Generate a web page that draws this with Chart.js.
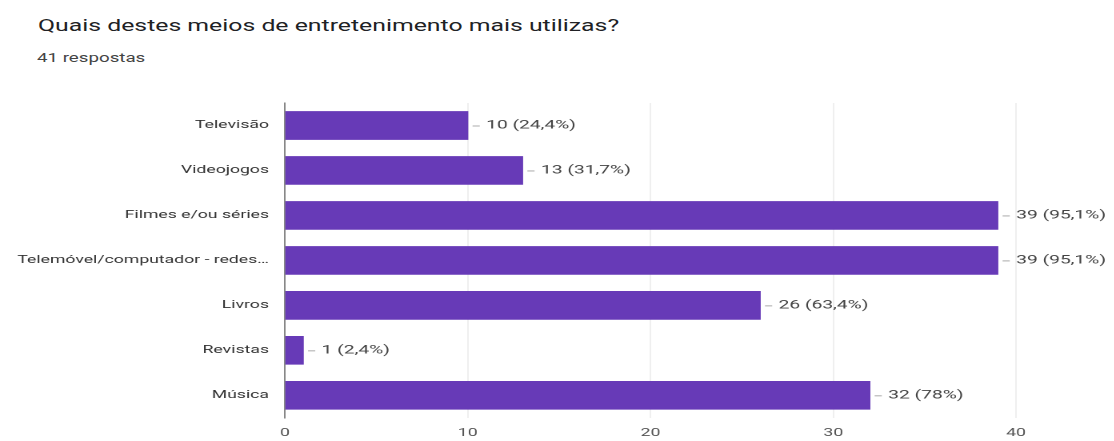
<!DOCTYPE html>
<html>
<head>
<meta charset="utf-8">
<script src="https://cdn.jsdelivr.net/npm/chart.js@4"></script>
<style>
  body { margin: 0; background: #fff; font-family: Roboto, Arial, sans-serif; overflow: hidden; }
  #title { position: absolute; left: 38px; top: 16px; font-size: 16px; color: #202124;
           white-space: nowrap; transform: scaleX(1.55); transform-origin: 0 0; }
  #sub { position: absolute; left: 37px; top: 51px; font-size: 12px; color: #444;
         white-space: nowrap; transform: scaleX(1.56); transform-origin: 0 0; }
  /* o original está esticado na horizontal */
  #wrap { position: absolute; left: 0; top: 75px; width: 696.25px; height: 375px;
          transform: scaleX(1.6); transform-origin: 0 0; }
</style>
</head>
<body>
<div id="title">Quais destes meios de entretenimento mais utilizas?</div>
<div id="sub">41 respostas</div>
<div id="wrap"><canvas id="myChart"></canvas></div>
<script>
const labels = [
  'Televisão',
  'Videojogos',
  'Filmes e/ou séries',
  'Telemóvel/computador - redes…',
  'Livros',
  'Revistas',
  'Música',
];
const counts = [10, 13, 39, 39, 26, 1, 32];
const percents = ['24,4%', '31,7%', '95,1%', '95,1%', '63,4%', '2,4%', '78%'];
const xTicks = [0, 10, 20, 30, 40];

const S = 1.6;

// etiquetas "– 10 (24,4%)" à direita das barras
const valueLabels = {
  id: 'valueLabels',
  afterDatasetsDraw(chart) {
    const c = chart.ctx;
    const meta = chart.getDatasetMeta(0);
    c.save();
    c.font = '12px Roboto, Arial, sans-serif';
    c.fillStyle = '#444';
    c.strokeStyle = '#aaa';
    c.lineWidth = 1;
    c.textBaseline = 'middle';
    meta.data.forEach((bar, i) => {
      c.beginPath();
      c.moveTo(bar.x + 3, bar.y + 0.5);
      c.lineTo(bar.x + 7.5, bar.y + 0.5);
      c.stroke();
      c.fillText(counts[i] + ' (' + percents[i] + ')', bar.x + 11.5, bar.y);
    });
    c.restore();
  }
};

new Chart(document.getElementById('myChart'), {
  type: 'bar',
  data: {
    labels,
    datasets: [{
      data: counts,
      backgroundColor: '#673ab7',
      barThickness: 28,
    }]
  },
  options: {
    indexAxis: 'y',
    responsive: true,
    maintainAspectRatio: false,
    animation: false,
    devicePixelRatio: 2,
    layout: { padding: { top: 28, right: 98 / S, left: 0, bottom: 1 } },
    plugins: {
      legend: { display: false },
      tooltip: { enabled: false },
    },
    scales: {
      x: {
        min: 0,
        max: 40,
        afterBuildTicks: s => { s.ticks = xTicks.map(v => ({ value: v })); },
        grid: { color: '#efefef', drawTicks: false },
        border: { display: false },
        ticks: {
          padding: 9,
          color: '#555',
          font: { size: 11, family: 'Roboto, Arial, sans-serif' },
        },
      },
      y: {
        afterFit: s => { s.width = 285 / S; },
        grid: { display: false },
        border: { display: true, color: '#888' },
        ticks: {
          padding: 2,
          color: '#333',
          font: { size: 11, family: 'Roboto, Arial, sans-serif' },
        },
      }
    }
  },
  plugins: [valueLabels]
});
</script>
</body>
</html>
